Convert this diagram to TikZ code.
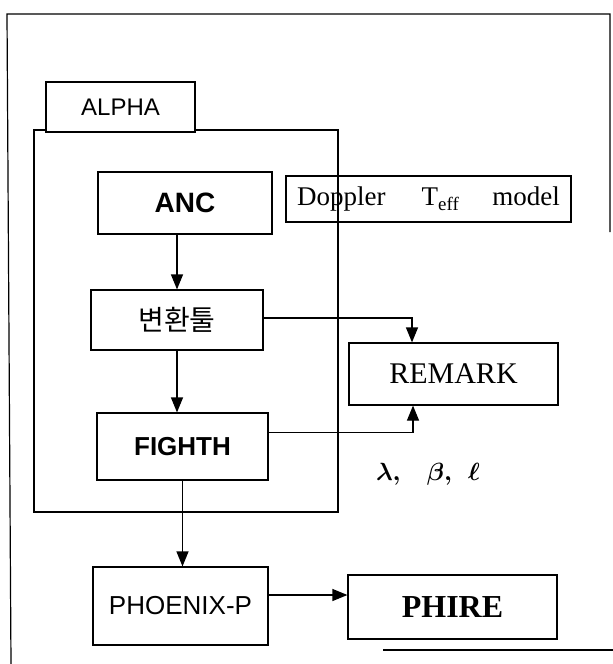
\documentclass[tikz,border=0pt]{standalone}
\usepackage{bm}
\usepackage{fontspec}
\setmainfont{Liberation Serif}
\newfontfamily\sansf{Liberation Sans}
\newfontfamily\krf{Noto Sans CJK KR}
\usetikzlibrary{arrows.meta}
\begin{document}
\begin{tikzpicture}[x=1pt,y=-1pt,
  box/.style={draw,line width=1.2pt,rectangle,inner sep=0pt,align=center},
  conn/.style={line width=1.2pt},
  arr/.style={line width=1.2pt,-{Triangle[length=15pt,width=12pt]}},
  ssz/.style={font=\sansf\fontsize{#1}{#1}\selectfont},
  rmz/.style={font=\fontsize{#1}{#1}\selectfont}]
\useasboundingbox (0,0) rectangle (613,664);
% outer frame (partly faded in the scan)
\coordinate (f1) at (7,14);
\coordinate (f2) at (610,14);
\coordinate (f3) at (610,232);
\coordinate (f4) at (11,664);
\coordinate (f5) at (383,650);
\coordinate (f6) at (613,650);
\draw[conn] (f4) -- (f1) -- (f2) -- (f3);
\draw[conn] (f5) -- (f6);
% big ALPHA box
\node[box,minimum width=304pt,minimum height=382pt] (big) at (186,321) {};
\node[box,fill=white,minimum width=149pt,minimum height=50pt,ssz=24] (alpha) at (120.5,107) {ALPHA};
\draw[conn] (alpha.south west) -- (alpha.south east);
% nodes
\node[box,minimum width=174pt,minimum height=62pt,ssz=28] (anc) at (185,203) {\bfseries ANC};
\node[box,minimum width=285pt,minimum height=46pt,rmz=27] (dop) at (428.5,199)
  {Doppler\hspace{36pt}T\textsubscript{eff}\hspace{33pt}model};
\node[box,minimum width=172pt,minimum height=60pt,font=\krf\fontsize{28}{28}\selectfont] (bt) at (177,320) {변환툴};
\node[box,minimum width=209pt,minimum height=62pt,rmz=30] (rem) at (453.5,374) {REMARK};
\node[box,minimum width=171pt,minimum height=67pt,ssz=26] (fig) at (182.5,446.5) {\bfseries FIGHTH};
\node[rmz=28,inner sep=0pt] (lbl) at (428,474) {$\bm{\lambda}\bm{,}\hspace{22pt}\bm{\beta}\bm{,}\hspace{12pt}\bm{\ell}$};
\node[box,minimum width=175pt,minimum height=78pt,ssz=26] (ph) at (180.5,606) {PHOENIX-P};
\node[box,minimum width=209pt,minimum height=64pt,rmz=32] (phire) at (452.5,607) {\bfseries PHIRE};
% connectors
\draw[arr] (anc.south -| bt.north) -- (bt.north);
\draw[arr] (bt.south) -- (bt.south |- fig.north);
\draw[arr] (fig.south) -- (fig.south |- ph.north);
\coordinate (rt) at ([xshift=-41.5pt]rem.north);
\coordinate (rb) at ([xshift=-40.5pt]rem.south);
\draw[arr] ([yshift=2pt]bt.east) -| (rt);
\draw[arr] ([yshift=-20pt]fig.north east) -| (rb);
\draw[arr] ([yshift=11pt]ph.east) -- ([yshift=11pt]ph.east -| phire.west);
\end{tikzpicture}
\end{document}
